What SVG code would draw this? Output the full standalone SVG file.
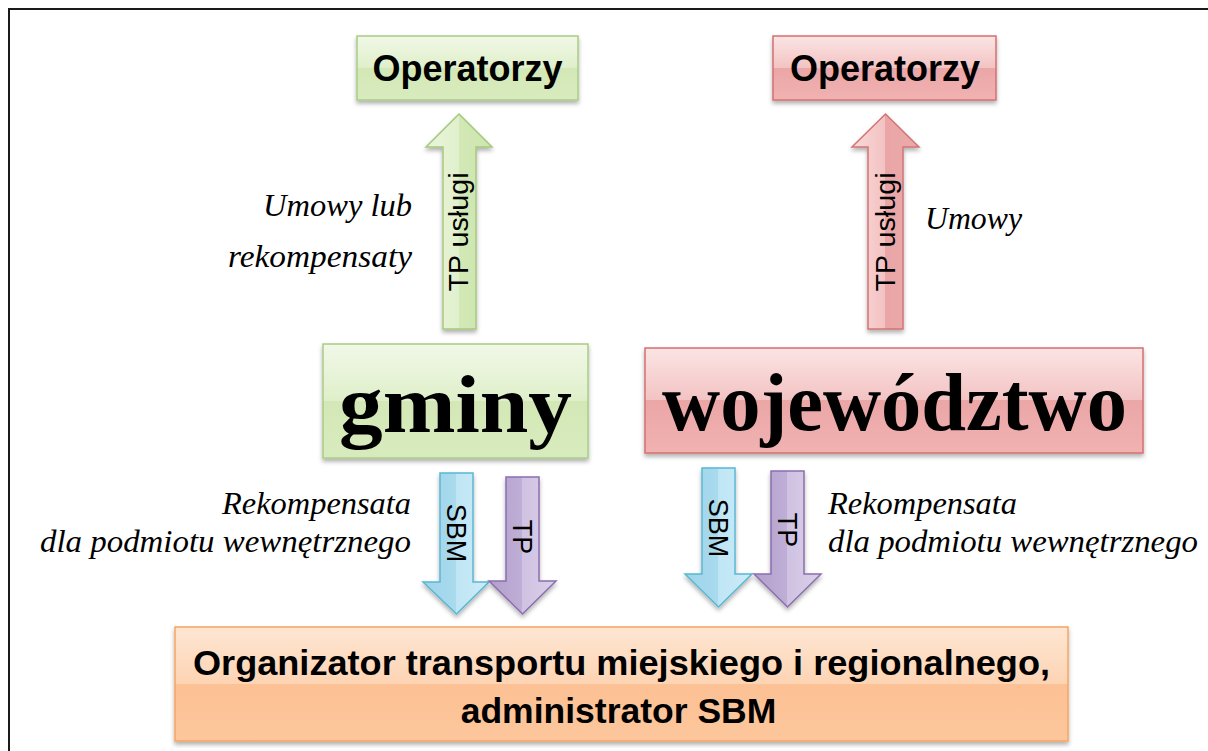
<svg xmlns="http://www.w3.org/2000/svg" width="1208" height="751" viewBox="0 0 1208 751">
<defs>
<linearGradient id="gGreen" x1="0" y1="0" x2="0" y2="1">
<stop offset="0" stop-color="#f1f8e7"/><stop offset="0.5" stop-color="#dfefca"/><stop offset="0.5" stop-color="#d3e8b6"/><stop offset="1" stop-color="#d8ebbe"/>
</linearGradient>
<linearGradient id="gRed" x1="0" y1="0" x2="0" y2="1">
<stop offset="0" stop-color="#fbe4e4"/><stop offset="0.5" stop-color="#f3c3c3"/><stop offset="0.5" stop-color="#eba6a6"/><stop offset="1" stop-color="#f1b2b2"/>
</linearGradient>
<linearGradient id="gOrange" x1="0" y1="0" x2="0" y2="1">
<stop offset="0" stop-color="#fee6d3"/><stop offset="0.5" stop-color="#fdd4b3"/><stop offset="0.5" stop-color="#fcc194"/><stop offset="1" stop-color="#fdc69c"/>
</linearGradient>
<linearGradient id="aGreen" x1="0" y1="0" x2="1" y2="0">
<stop offset="0" stop-color="#eaf5dc"/><stop offset="0.5" stop-color="#e0f0cc"/><stop offset="0.5" stop-color="#d2e8b5"/><stop offset="1" stop-color="#cfe6b0"/>
</linearGradient>
<linearGradient id="aRed" x1="0" y1="0" x2="1" y2="0">
<stop offset="0" stop-color="#f9d9d9"/><stop offset="0.5" stop-color="#f3c2c2"/><stop offset="0.5" stop-color="#eaa6a6"/><stop offset="1" stop-color="#eba9a9"/>
</linearGradient>
<linearGradient id="aBlue" x1="0" y1="0" x2="1" y2="0">
<stop offset="0" stop-color="#9ed4e9"/><stop offset="0.5" stop-color="#a9daee"/><stop offset="0.5" stop-color="#bfe5f4"/><stop offset="1" stop-color="#cdebf7"/>
</linearGradient>
<linearGradient id="aPurple" x1="0" y1="0" x2="1" y2="0">
<stop offset="0" stop-color="#b3a0cc"/><stop offset="0.5" stop-color="#bfaed6"/><stop offset="0.5" stop-color="#cfc2e2"/><stop offset="1" stop-color="#dad0e9"/>
</linearGradient>
<filter id="sh" x="-10%" y="-10%" width="120%" height="140%">
<feDropShadow dx="0" dy="3" stdDeviation="2" flood-color="#000" flood-opacity="0.3"/>
</filter>
</defs>
<style>
.box{filter:url(#sh);stroke-width:1.5}
.bg{fill:url(#gGreen);stroke:#a8cd82}
.br{fill:url(#gRed);stroke:#d66f6f}
.bo{fill:url(#gOrange);stroke:#f7a462}
.op{font-family:"Liberation Sans",Arial,sans-serif;font-weight:bold;font-size:36px;text-anchor:middle;fill:#000}
.big{font-family:"Liberation Serif","Times New Roman",serif;font-weight:bold;font-size:82px;text-anchor:middle;fill:#000}
.org{font-family:"Liberation Sans",Arial,sans-serif;font-weight:bold;font-size:35.5px;text-anchor:middle;fill:#000}
.arr{filter:url(#sh);stroke-width:1.5}
.ag{fill:url(#aGreen);stroke:#a5c97c}
.ar{fill:url(#aRed);stroke:#d27474}
.ab{fill:url(#aBlue);stroke:#5ab7d3}
.ap{fill:url(#aPurple);stroke:#8a6fae}
.at{font-family:"Liberation Sans",Arial,sans-serif;font-size:27px;text-anchor:middle;fill:#000}
.lab{font-family:"Liberation Serif","Times New Roman",serif;font-style:italic;font-size:31px;fill:#000}
</style>
<rect x="9" y="9" width="1250" height="800" fill="#fff" stroke="#1a1a1a" stroke-width="2"/>

<g id="connectors">
<g id="arrow-gminy-operatorzy">
<polygon class="arr ag" points="459,114 492,147 476,147 476,329 443,329 443,147 426,147"/>
<text class="at" transform="translate(468,232) rotate(-90)" x="0" y="0" textLength="119" lengthAdjust="spacingAndGlyphs">TP usługi</text>
</g>
<g id="arrow-woj-operatorzy">
<polygon class="arr ar" points="885.5,114 919,147 903,147 903,329 868,329 868,147 852,147"/>
<text class="at" transform="translate(895,232) rotate(-90)" x="0" y="0" textLength="119" lengthAdjust="spacingAndGlyphs">TP usługi</text>
</g>
<g id="arrow-gminy-sbm">
<polygon class="arr ab" points="440,473 473,473 473,582 489,582 456.5,614 423,582 440,582"/>
<text class="at" transform="translate(447,533) rotate(90)" x="0" y="0">SBM</text>
</g>
<g id="arrow-gminy-tp">
<polygon class="arr ap" points="506,477 539,477 539,581 556,581 522.5,614 489,581 506,581"/>
<text class="at" transform="translate(513,537) rotate(90)" x="0" y="0">TP</text>
</g>
<g id="arrow-woj-sbm">
<polygon class="arr ab" points="702,468 735,468 735,574 752,574 718.5,607 685,574 702,574"/>
<text class="at" transform="translate(709,528) rotate(90)" x="0" y="0">SBM</text>
</g>
<g id="arrow-woj-tp">
<polygon class="arr ap" points="771,471 804,471 804,574 821,574 787.5,607 754,574 771,574"/>
<text class="at" transform="translate(778,530) rotate(90)" x="0" y="0">TP</text>
</g>
</g>

<g id="labels">
<text class="lab" x="412" y="216" text-anchor="end" textLength="149" lengthAdjust="spacingAndGlyphs">Umowy lub</text>
<text class="lab" x="412" y="267" text-anchor="end" textLength="184" lengthAdjust="spacingAndGlyphs">rekompensaty</text>
<text class="lab" x="925" y="229" textLength="97" lengthAdjust="spacingAndGlyphs">Umowy</text>
<text class="lab" x="411" y="514" text-anchor="end" textLength="189" lengthAdjust="spacingAndGlyphs">Rekompensata</text>
<text class="lab" x="411" y="552" text-anchor="end" textLength="371" lengthAdjust="spacingAndGlyphs">dla podmiotu wewnętrznego</text>
<text class="lab" x="828" y="514" textLength="189" lengthAdjust="spacingAndGlyphs">Rekompensata</text>
<text class="lab" x="828" y="552" textLength="370" lengthAdjust="spacingAndGlyphs">dla podmiotu wewnętrznego</text>
</g>

<g id="operatorzy-gminy">
<rect class="box bg" x="357" y="36" width="221" height="64"/>
<text class="op" x="467.5" y="81">Operatorzy</text>
</g>
<g id="operatorzy-wojewodztwo">
<rect class="box br" x="773" y="36" width="223" height="64"/>
<text class="op" x="885" y="81">Operatorzy</text>
</g>
<g id="gminy">
<rect class="box bg" x="323" y="344" width="265" height="114"/>
<text class="big" x="455.5" y="432" textLength="233" lengthAdjust="spacingAndGlyphs">gminy</text>
</g>
<g id="wojewodztwo">
<rect class="box br" x="645" y="348" width="498" height="105"/>
<text class="big" x="894.5" y="430" textLength="465" lengthAdjust="spacingAndGlyphs">województwo</text>
</g>
<g id="organizator">
<rect class="box bo" x="175" y="627" width="893" height="114"/>
<text class="org" x="621.5" y="675" textLength="857" lengthAdjust="spacingAndGlyphs">Organizator transportu  miejskiego i regionalnego,</text>
<text class="org" x="618.5" y="723">administrator SBM</text>
</g>
</svg>
